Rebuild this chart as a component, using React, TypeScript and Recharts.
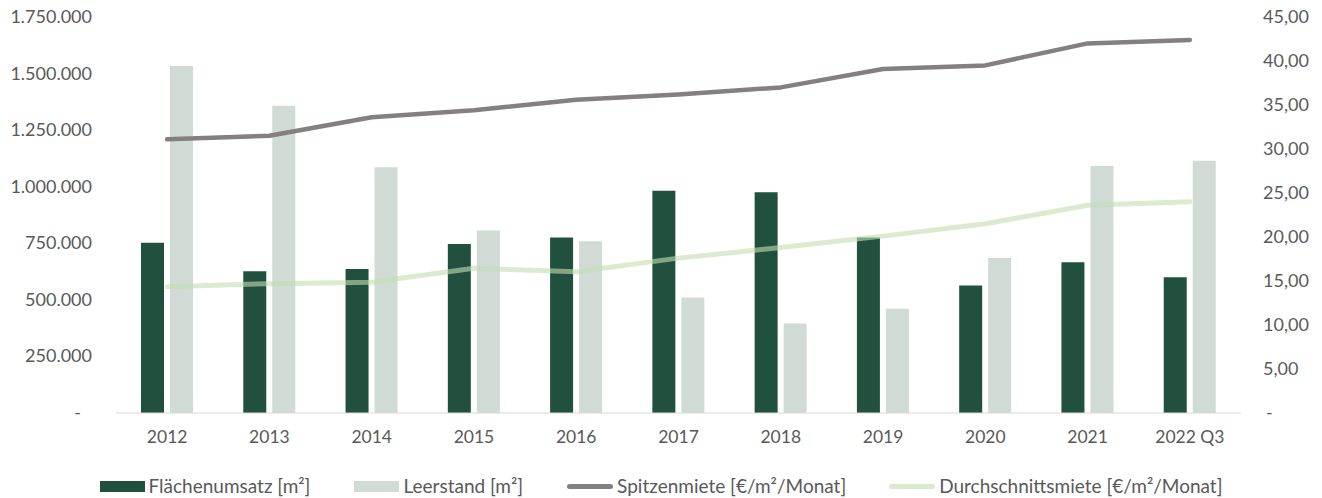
import React from "react";
import { ComposedChart, Bar, Line, XAxis, YAxis, Legend } from "recharts";

const categories = ["2012", "2013", "2014", "2015", "2016", "2017", "2018", "2019", "2020", "2021", "2022 Q3"];
const flaechenumsatz = [752000, 626000, 636000, 747000, 776000, 982000, 975000, 776000, 563000, 666000, 600000];
const leerstand = [1533000, 1358000, 1086000, 806000, 759000, 510000, 395000, 461000, 685000, 1091000, 1115000];
const spitzenmiete = [31.1, 31.5, 33.6, 34.4, 35.6, 36.2, 37.0, 39.1, 39.5, 42.0, 42.4];
const durchschnittsmiete = [14.35, 14.7, 14.85, 16.45, 16.05, 17.6, 18.8, 20.1, 21.5, 23.6, 24.0];

const leftTicks = [0, 250000, 500000, 750000, 1000000, 1250000, 1500000, 1750000];
const rightTicks = [0, 5, 10, 15, 20, 25, 30, 35, 40, 45];

const seriesNames = {
  f: "Flächenumsatz [m²]",
  l: "Leerstand [m²]",
  s: "Spitzenmiete [€/m²/Monat]",
  d: "Durchschnittsmiete [€/m²/Monat]",
};

const data = categories.map((c, i) => ({
  name: c,
  f: flaechenumsatz[i],
  l: leerstand[i],
  s: spitzenmiete[i],
  d: durchschnittsmiete[i],
}));

const FONT = "Lato, 'Open Sans', sans-serif";
const TXT = "#595959";
const DARK = "#22503E";
const LIGHT = "#D0DBD6";
const GREY = "#857F7F";
const GREEN = "#C3DEB1";

const fmtLeft = (v: number) => {
  if (v === 0) return "-";
  return v.toLocaleString("de-DE");
};
const fmtRight = (v: number) => {
  if (v === 0) return "-";
  return v.toFixed(2).replace(".", ",");
};

const LeftTick = (props: any) => {
  const { x, y, payload } = props;
  const v = payload.value;
  return (
    <text x={v === 0 ? x - 11 : x} y={y} dy={6} textAnchor="end" fill={TXT} fontSize={18} fontFamily={FONT}>
      {fmtLeft(v)}
    </text>
  );
};

const RightTick = (props: any) => {
  const { x, y, payload } = props;
  const v = payload.value;
  return (
    <text x={v === 0 ? x + 3 : x} y={y} dy={6} textAnchor="start" fill={TXT} fontSize={18} fontFamily={FONT}>
      {fmtRight(v)}
    </text>
  );
};

const LegendContent = () => {
  const item = (icon: React.ReactNode, label: string, gapAfter: number) => (
    <div style={{ display: "flex", alignItems: "center", marginRight: gapAfter }}>
      {icon}
      <span style={{ marginLeft: 4, fontFamily: FONT, fontSize: 19, color: TXT, lineHeight: "18px", whiteSpace: "nowrap" }}>{label}</span>
    </div>
  );
  return (
    <div style={{ height: 45, paddingTop: 24, boxSizing: "border-box", display: "flex", justifyContent: "center", alignItems: "flex-start" }}>
      {item(<div style={{ width: 45, height: 11, background: DARK }} />, seriesNames.f, 44)}
      {item(<div style={{ width: 45, height: 11, background: LIGHT }} />, seriesNames.l, 44)}
      {item(<div style={{ width: 46, height: 5, borderRadius: 3, background: GREY }} />, seriesNames.s, 43)}
      {item(<div style={{ width: 46, height: 5, borderRadius: 3, background: "#D9EACE" }} />, seriesNames.d, 0)}
    </div>
  );
};

export default function App() {
  return (
    <div style={{ position: "absolute", left: 0, top: 0, width: 1322, height: 498, background: "#fff" }}>
      <ComposedChart
        width={1322}
        height={498}
        data={data}
        margin={{ top: 17, right: 0, bottom: 0, left: 0 }}
        barGap={6}
        barSize={23}
      >
        <XAxis
          dataKey="name"
          xAxisId="x"
          height={40}
          tickLine={false}
          axisLine={{ stroke: "#D9D9D9", strokeWidth: 1 }}
          tick={{ fill: TXT, fontSize: 17.5, fontFamily: FONT }}
          tickMargin={12}
          interval={0}
        />
        <YAxis
          yAxisId="left"
          orientation="left"
          width={116}
          domain={[0, 1750000]}
          ticks={leftTicks}
          interval={0}
          tickLine={false}
          axisLine={false}
          tickSize={6}
          tickMargin={18}
          tick={<LeftTick />}
        />
        <YAxis
          yAxisId="right"
          orientation="right"
          width={81}
          domain={[0, 45]}
          ticks={rightTicks}
          interval={0}
          tickLine={false}
          axisLine={false}
          tickSize={6}
          tickMargin={16}
          tick={<RightTick />}
        />
        <Legend verticalAlign="bottom" height={45} content={<LegendContent />} wrapperStyle={{ left: 0, width: 1322 }} />
        <Bar xAxisId="x" yAxisId="left" dataKey="f" name={seriesNames.f} fill={DARK} isAnimationActive={false} />
        <Bar xAxisId="x" yAxisId="left" dataKey="l" name={seriesNames.l} fill={LIGHT} isAnimationActive={false} />
        <Line
          xAxisId="x"
          yAxisId="right"
          type="linear"
          dataKey="d"
          name={seriesNames.d}
          stroke={GREEN}
          strokeOpacity={0.6}
          strokeWidth={5}
          strokeLinecap="round"
          strokeLinejoin="round"
          dot={false}
          activeDot={false}
          isAnimationActive={false}
        />
        <Line
          xAxisId="x"
          yAxisId="right"
          type="linear"
          dataKey="s"
          name={seriesNames.s}
          stroke={GREY}
          strokeWidth={4.5}
          strokeLinecap="round"
          strokeLinejoin="round"
          dot={false}
          activeDot={false}
          isAnimationActive={false}
        />
      </ComposedChart>
    </div>
  );
}
